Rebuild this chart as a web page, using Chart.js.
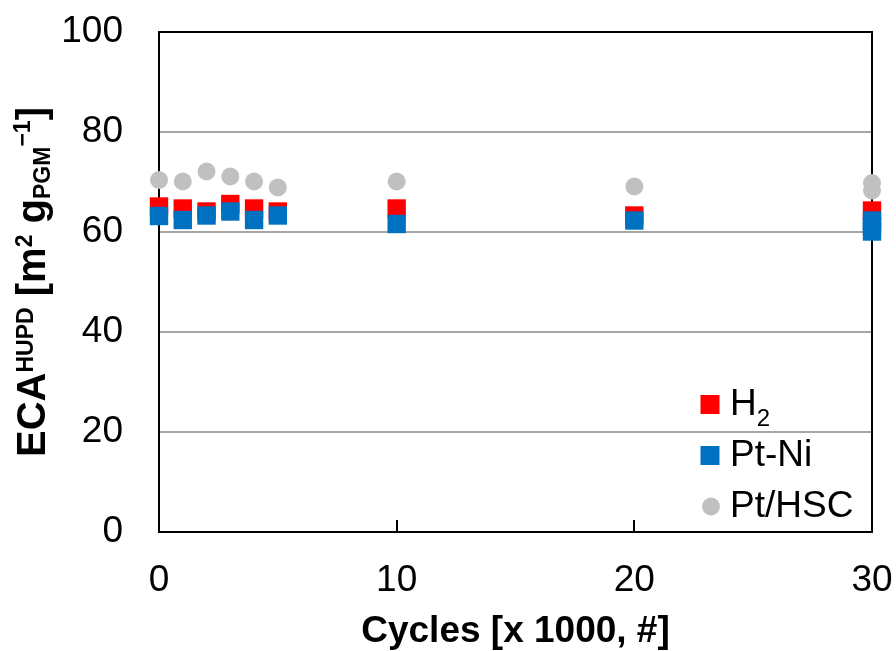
<!DOCTYPE html>
<html>
<head>
<meta charset="utf-8">
<script src="https://cdn.jsdelivr.net/npm/chart.js@4.4.0/dist/chart.umd.min.js"></script>
<style>
  html, body { margin: 0; padding: 0; background: #fff; }
</style>
</head>
<body>
<canvas id="out" width="896" height="651"></canvas>
<script>
const FONT = '"Liberation Sans", Arial, sans-serif';

// data
const seriesNames = ["H2", "Pt-Ni", "Pt/HSC"];
const h2Cycles = [0, 1, 2, 3, 4, 5, 10, 20, 30];
const h2Values = [65.1, 64.7, 64.1, 65.6, 64.7, 64.1, 64.7, 63.3, 64.3];
const ptNiCycles = [0, 1, 2, 3, 4, 5, 10, 20, 30, 30, 30];
const ptNiValues = [63.2, 62.4, 63.3, 64.1, 62.4, 63.3, 61.6, 62.3, 62.3, 61.2, 60.1];
const hscCycles = [0, 1, 2, 3, 4, 5, 10, 20, 30, 30];
const hscValues = [70.4, 70.1, 72.1, 71.1, 70.1, 68.9, 70.1, 69.1, 69.8, 68.3];
const xTickValues = [0, 10, 20, 30];
const yTickValues = [0, 20, 40, 60, 80, 100];
const xTitle = "Cycles [x 1000, #]";

function points(xs, ys) {
  return xs.map((x, i) => ({ x: x, y: ys[i] }));
}

// frame + little inner ticks on the bottom axis, under the points
const framePlugin = {
  id: "frame",
  beforeDatasetsDraw(chart) {
    const c = chart.ctx;
    const a = chart.chartArea;
    const xs = chart.scales.x;
    c.save();
    c.strokeStyle = "#000";
    c.lineWidth = 2;
    c.strokeRect(a.left, a.top, a.right - a.left, a.bottom - a.top);
    c.beginPath();
    xTickValues.forEach(v => {
      const px = Math.round(xs.getPixelForValue(v));
      c.moveTo(px, a.bottom);
      c.lineTo(px, a.bottom - 12);
    });
    c.stroke();
    c.restore();
  }
};

// rich text y title and legend (sub/superscripts)
function drawRuns(c, runs, x, y) {
  let cx = x;
  runs.forEach(r => {
    c.font = r.font;
    c.fillText(r.t, cx, y + r.dy);
    cx += c.measureText(r.t).width;
  });
}
function runsWidth(c, runs) {
  let w = 0;
  runs.forEach(r => { c.font = r.font; w += c.measureText(r.t).width; });
  return w;
}
function chemRuns(label) {
  const big = "37px " + FONT;
  const small = "24px " + FONT;
  return label.split(/(\d+)/).filter(s => s).map(s =>
    /^\d+$/.test(s) ? { t: s, font: small, dy: 11 } : { t: s, font: big, dy: 0 });
}

const textPlugin = {
  id: "richText",
  afterDraw(chart) {
    const c = chart.ctx;
    const a = chart.chartArea;
    c.save();
    c.fillStyle = "#000";
    c.textBaseline = "alphabetic";
    c.textAlign = "left";

    // y axis title
    const B = "bold 40px " + FONT;
    const S = "bold 23px " + FONT;
    const yRuns = [
      { t: "ECA", font: B, dy: 0 },
      { t: "HUPD", font: S, dy: -12 },
      { t: " [m", font: B, dy: 0 },
      { t: "2", font: S, dy: -13 },
      { t: " g", font: B, dy: 0 },
      { t: "PGM", font: S, dy: 5 },
      { t: "\u22121", font: S, dy: -15 },
      { t: "]", font: B, dy: 0 }
    ];
    const w = runsWidth(c, yRuns);
    c.save();
    c.translate(45, (a.top + a.bottom) / 2);
    c.rotate(-Math.PI / 2);
    drawRuns(c, yRuns, -w / 2, 0);
    c.restore();

    // legend, inside bottom right
    const mx = a.right - 162;
    const tx = a.right - 142;
    seriesNames.forEach((name, i) => {
      const ds = chart.data.datasets.find(d => d.label === name);
      const my = a.bottom - 25.5 - (seriesNames.length - 1 - i) * 51;
      c.fillStyle = ds.pointBackgroundColor;
      if (ds.pointStyle === "circle") {
        c.beginPath();
        c.arc(mx + 1, my, 9, 0, Math.PI * 2);
        c.fill();
      } else {
        c.fillRect(mx - 9.5, my - 9.5, 19, 19);
      }
      c.fillStyle = "#000";
      drawRuns(c, chemRuns(name), tx, my + 10);
    });
    c.restore();
  }
};

const chartConfig = {
  type: "scatter",
  data: {
    datasets: [
      {
        label: seriesNames[0],
        data: points(h2Cycles, h2Values),
        pointStyle: "rect",
        pointRadius: 13,
        pointBackgroundColor: "#ff0000",
        pointBorderWidth: 0,
        order: 1,
        clip: false
      },
      {
        label: seriesNames[1],
        data: points(ptNiCycles, ptNiValues),
        pointStyle: "rect",
        pointRadius: 13,
        pointBackgroundColor: "#0070c0",
        pointBorderWidth: 0,
        order: 0,
        clip: false
      },
      {
        label: seriesNames[2],
        data: points(hscCycles, hscValues),
        pointStyle: "circle",
        pointRadius: 9,
        pointBackgroundColor: "#c0c0c0",
        pointBorderWidth: 0,
        order: 2,
        clip: false
      }
    ]
  },
  options: {
    responsive: false,
    animation: false,
    events: [],
    layout: { padding: { left: 0, right: 24, top: 32, bottom: 0 } },
    plugins: {
      legend: { display: false },
      tooltip: { enabled: false }
    },
    scales: {
      x: {
        type: "linear",
        min: 0,
        max: 30,
        afterBuildTicks: s => { s.ticks = xTickValues.map(v => ({ value: v })); },
        afterFit: s => {
          s.height = 119;
          s.paddingLeft = 0;
          s.paddingRight = 0;
        },
        grid: { display: false, drawTicks: false },
        border: { display: false },
        ticks: {
          padding: 27,
          color: "#000",
          font: { family: FONT, size: 37 },
          maxRotation: 0
        },
        title: {
          display: true,
          text: xTitle,
          color: "#000",
          font: { family: FONT, size: 37, weight: "bold" },
          padding: { top: 0, bottom: -3 }
        }
      },
      y: {
        type: "linear",
        min: 0,
        max: 100,
        afterBuildTicks: s => { s.ticks = yTickValues.map(v => ({ value: v })); },
        afterFit: s => {
          s.width = 159;
          s.paddingTop = 0;
          s.paddingBottom = 0;
        },
        grid: { color: "#a6a6a6", lineWidth: 2, drawTicks: false },
        border: { display: false },
        ticks: {
          padding: 36,
          color: "#000",
          font: { family: FONT, size: 37 }
        }
      }
    }
  },
  plugins: [framePlugin, textPlugin]
};

const canvasCtx = document.getElementById("out").getContext("2d");
window.chart = new Chart(canvasCtx, chartConfig);
</script>
</body>
</html>
